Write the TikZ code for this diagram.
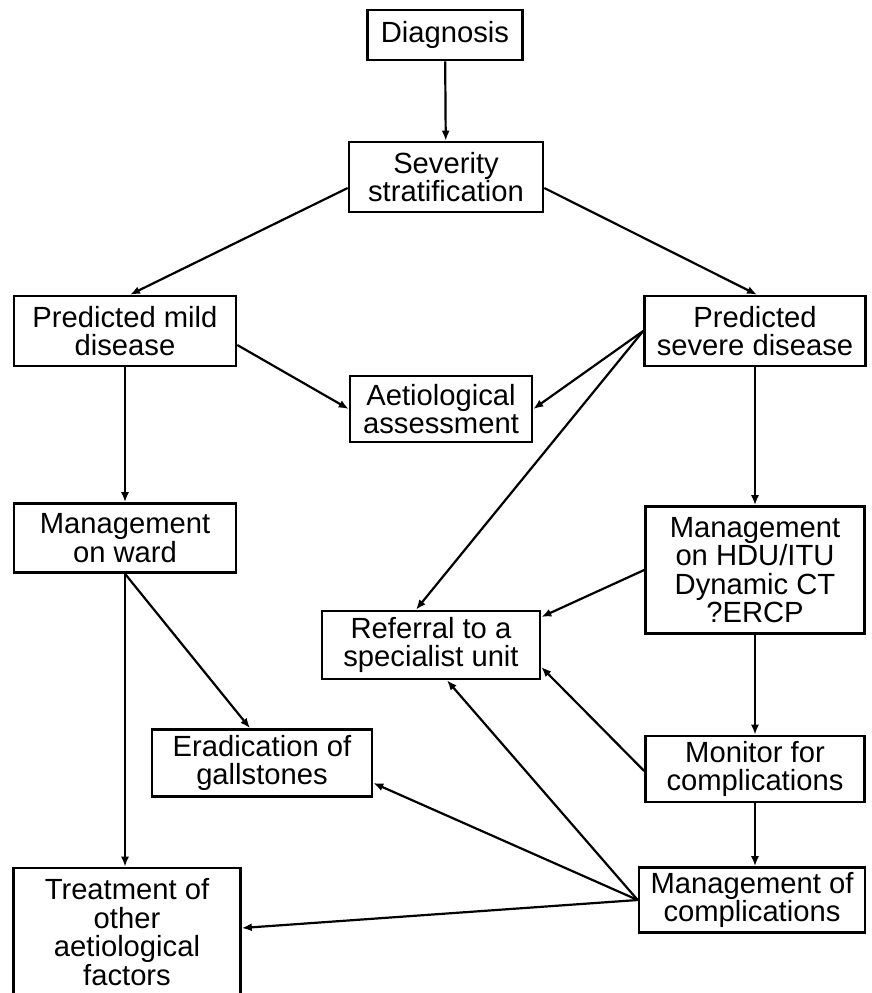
\documentclass[tikz,border=0pt]{standalone}
\usepackage{fontspec}
\setmainfont{Liberation Sans}
\usetikzlibrary{arrows.meta,positioning}

\begin{document}
\begin{tikzpicture}[
  x=0.5pt, y=-0.5pt,
  >={Latex[length=5pt,width=4pt]},
  box/.style={draw, line width=1.3pt, align=center, inner sep=2pt,
              font=\fontsize{14.6}{14.2}\selectfont},
  line/.style={->, line width=1.1pt}
]
\useasboundingbox (0,0) rectangle (872,993);

% Top
\node[box, minimum width=77.5pt, minimum height=25pt] (diag) at (445,35) {Diagnosis};
\node[box, minimum width=97pt, minimum height=35pt] (sev) at (446,177) {Severity\\stratification};

% Predicted severity
\node[box, minimum width=111pt, minimum height=35pt] (mild) at (125,331) {Predicted mild\\disease};
\node[box, minimum width=110.5pt, minimum height=35pt] (severe) at (755,331) {Predicted\\severe disease};
\node[box, minimum width=91pt, minimum height=33pt] (aet) at (441,409) {Aetiological\\assessment};

% Management
\node[box, minimum width=111pt, minimum height=34.5pt] (ward) at (125,538) {Management\\on ward};
\node[box, minimum width=109.5pt, minimum height=63.5pt] (hdu) at (755,570) {Management\\on HDU/ITU\\Dynamic CT\\?ERCP};
\node[box, minimum width=109pt, minimum height=34pt] (ref) at (431,645) {Referral to a\\specialist unit};

% Lower row
\node[box, minimum width=110pt, minimum height=33.5pt] (erad) at (262,763) {Eradication of\\gallstones};
\node[box, minimum width=109.5pt, minimum height=33pt] (mon) at (755,769) {Monitor for\\complications};
\node[box, minimum width=113.5pt, minimum height=64pt] (treat) at (127,932) {Treatment of\\other\\aetiological\\factors};
\node[box, minimum width=113pt, minimum height=32.5pt] (mcomp) at (752,900) {Management of\\complications};

% Arrows from the top
\draw[line] (diag) -- (sev);
\draw[line] ([yshift=-5.5pt]sev.west) -- ([xshift=2.5pt]mild.north);
\draw[line] ([yshift=-5.5pt]sev.east) -- ([xshift=1pt]severe.north);

% Aetiology
\draw[line] ([yshift=-7pt]mild.east) -- (aet.west);
\draw[line] (severe.west) -- (aet.east);

% Referral
\draw[line] (severe.west) -- ([xshift=-7.5pt]ref.north);
\draw[line] (hdu.west) -- ([yshift=14pt]ref.east);
\draw[line] ([yshift=-1pt]mon.west) -- ([yshift=-11pt]ref.east);
\draw[line] (mcomp.west) -- ([xshift=8pt]ref.south);

% Mild branch
\draw[line] (mild) -- (ward);
\draw[line] (ward.south) -- ([xshift=-6pt]erad.north);
\draw[line] (ward.south) -- ([xshift=-1pt]treat.north);

% Severe branch
\draw[line] (severe) -- (hdu);
\draw[line] (hdu) -- (mon);
\draw[line] (mon.south) -- ([xshift=1.5pt]mcomp.north);

% Complications
\draw[line] (mcomp.west) -- ([yshift=-10pt]erad.east);
\draw[line] (mcomp.west) -- ([yshift=2pt]treat.east);

\end{tikzpicture}
\end{document}
